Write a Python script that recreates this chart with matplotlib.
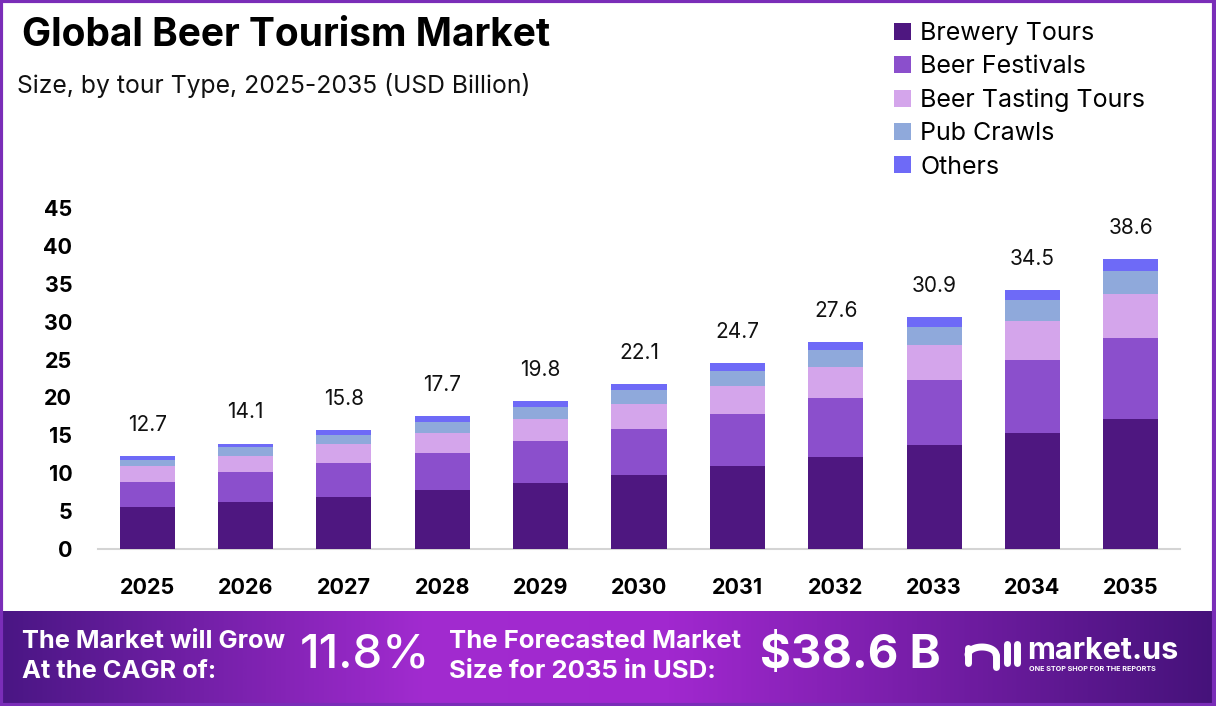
import matplotlib
matplotlib.use("Agg")
import matplotlib.pyplot as plt
import numpy as np
from matplotlib.colors import LinearSegmentedColormap
from matplotlib.patches import Rectangle

years = ["2025", "2026", "2027", "2028", "2029", "2030", "2031", "2032", "2033", "2034", "2035"]
totals = [12.7, 14.1, 15.8, 17.7, 19.8, 22.1, 24.7, 27.6, 30.9, 34.5, 38.6]
brewery_tours = [5.5, 6.2, 6.9, 7.8, 8.7, 9.8, 11.0, 12.2, 13.7, 15.3, 17.2]
beer_festivals = [3.4, 4.0, 4.5, 4.9, 5.5, 6.1, 6.8, 7.7, 8.6, 9.6, 10.7]
beer_tasting = [2.0, 2.1, 2.4, 2.6, 2.9, 3.3, 3.7, 4.1, 4.6, 5.2, 5.8]
pub_crawls = [0.9, 1.1, 1.2, 1.5, 1.6, 1.8, 2.0, 2.2, 2.4, 2.8, 3.0]
others = [0.5, 0.5, 0.7, 0.7, 0.8, 0.8, 1.0, 1.1, 1.3, 1.3, 1.6]
series_names = ["Brewery Tours", "Beer Festivals", "Beer Tasting Tours", "Pub Crawls", "Others"]
colors = ["#4E1780", "#8B4FCC", "#D4A5EB", "#8FA9DB", "#6E6AF7"]
yticks = [0, 5, 10, 15, 20, 25, 30, 35, 40, 45]

FONT = "Inter"
W, H = 1216, 706
fig = plt.figure(figsize=(W / 100, H / 100), dpi=100)
fig.patch.set_facecolor("white")

ax = fig.add_axes([98 / W, (H - 549) / H, 1082 / W, 341 / H])
series = [brewery_tours, beer_festivals, beer_tasting, pub_crawls, others]
x = np.arange(len(years))
bottom = np.zeros(len(years))
handles = []
for name, vals, c in zip(series_names, series, colors):
    b = ax.bar(x, vals, width=0.56, bottom=bottom, color=c, label=name, zorder=3)
    handles.append(b)
    bottom += np.array(vals)

for xi, top, lab in zip(x, bottom, totals):
    ax.annotate(f"{lab}", (xi, top), xytext=(0, 22.5), textcoords="offset points",
                ha="center", va="center", fontsize=15, family=FONT, color="#111111")

ax.set_xlim(-0.5, len(years) - 0.5)
ax.set_ylim(0, 45)
ax.set_yticks(yticks)
ax.set_yticklabels([str(t) for t in yticks], fontsize=15.5, fontweight="bold", family=FONT)
ax.set_xticks(x)
ax.set_xticklabels(years, fontsize=15.5, fontweight="bold", family=FONT)
ax.tick_params(axis="both", length=0)
ax.tick_params(axis="y", pad=18.5)
ax.tick_params(axis="x", pad=21)
for s in ["top", "right", "left"]:
    ax.spines[s].set_visible(False)
ax.spines["bottom"].set_color("#d4d4d4")
ax.spines["bottom"].set_linewidth(1.5)
ax.set_facecolor("none")

# legend
leg = fig.legend(handles=handles, labels=series_names, loc="upper left",
                 bbox_to_anchor=(884 / W, 1 - 12 / H), frameon=False,
                 prop={"family": FONT, "size": 18}, handlelength=0.68, handleheight=0.68,
                 handletextpad=0.38, labelspacing=0.41, borderaxespad=0)

# titles
fig.text(22 / W, 1 - 36 / H, "Global Beer Tourism Market", fontsize=28, fontweight="bold",
         family=FONT, va="center", ha="left", color="black")
fig.text(17 / W, 1 - 85 / H, "Size, by tour Type, 2025-2035 (USD Billion)", fontsize=17.8,
         family=FONT, va="center", ha="left", color="#111111")

# footer
fax = fig.add_axes([0, 0, 1, 95 / H])
cmap = LinearSegmentedColormap.from_list("ft", [(0, "#4A1684"), (0.35, "#A22BD0"),
                                                (0.55, "#A128CF"), (1.0, "#45127A")])
grad = np.linspace(0, 1, 512)[None, :]
fax.imshow(grad, aspect="auto", cmap=cmap, extent=[0, W, 0, 95])
fax.set_xlim(0, W)
fax.set_ylim(0, 95)
fax.axis("off")
tk = dict(color="white", fontweight="bold", family=FONT, va="center", ha="left")
fax.text(22, 95 - 30, "The Market will Grow", fontsize=18.3, **tk)
fax.text(22, 95 - 61, "At the CAGR of:", fontsize=18.3, **tk)
fax.text(300, 95 - 45, "11.8%", fontsize=34, **{**tk, "fontweight": "medium"})
fax.text(449, 95 - 30, "The Forecasted Market", fontsize=18.5, **tk)
fax.text(449, 95 - 61, "Size for 2035 in USD:", fontsize=18.5, **tk)
fax.text(760, 95 - 45, "$38.6 B", fontsize=34, **tk)
# logo
fax.text(1027, 95 - 40, "market.us", fontsize=22, **tk)
fax.text(1029, 95 - 58, "ONE STOP SHOP FOR THE REPORTS", fontsize=5.2, **tk)
lw = 5
fax.plot([968, 968], [95 - 37, 95 - 52], color="white", lw=lw, solid_capstyle="round")
t = np.linspace(np.pi, 0, 40)
fax.plot(982 + 14 * np.cos(t) - 0, 95 - 44 + 8 * np.sin(t), color="white", lw=lw,
         solid_capstyle="round")
fax.plot([996, 996], [95 - 44, 95 - 56], color="white", lw=lw, solid_capstyle="round")
fax.plot([1007, 1007], [95 - 33, 95 - 52], color="white", lw=lw, solid_capstyle="round")
fax.plot([1017, 1017], [95 - 33, 95 - 52], color="white", lw=lw, solid_capstyle="round")

# border
fig.patches.append(Rectangle((0.001, 0.001), 0.997, 0.997, transform=fig.transFigure,
                             fill=False, edgecolor="#7A2DB8", linewidth=3, zorder=10))

fig.savefig("out.png", dpi=100)
